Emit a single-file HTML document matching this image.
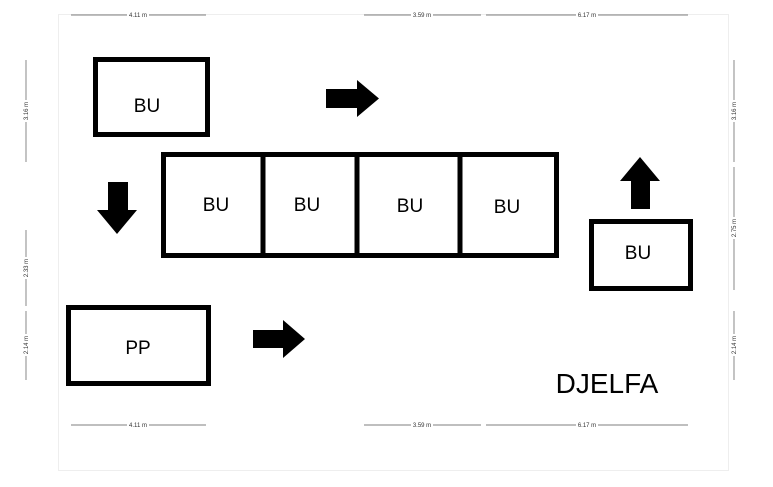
<!DOCTYPE html>
<html><head><style>html,body{margin:0;padding:0;background:#fff}svg{display:block}</style></head><body>
<svg width="773" height="487" viewBox="0 0 773 487" xmlns="http://www.w3.org/2000/svg" font-family="Liberation Sans, sans-serif">
<rect width="773" height="487" fill="#fff"/>
<rect x="58.5" y="14.5" width="670" height="456" fill="none" stroke="#eee" stroke-width="1"/>
<g fill="none" stroke="#000" stroke-width="5">
<rect x="95.5" y="59.5" width="112" height="75"/>
<rect x="163.5" y="154.5" width="393" height="101"/>
<line x1="263" y1="154" x2="263" y2="256"/>
<line x1="357" y1="154" x2="357" y2="256"/>
<line x1="460" y1="154" x2="460" y2="256"/>
<rect x="591.5" y="221.5" width="99" height="67"/>
<rect x="68.5" y="307.5" width="140" height="76"/>
</g>
<g font-size="19" text-anchor="middle" fill="#000">
<text x="147" y="112">BU</text>
<text x="216" y="211">BU</text>
<text x="307" y="211">BU</text>
<text x="410" y="212">BU</text>
<text x="507" y="213">BU</text>
<text x="638" y="259">BU</text>
<text x="138" y="354">PP</text>
</g>
<text x="607" y="393" font-size="28" text-anchor="middle">DJELFA</text>
<g fill="#000">
<polygon points="326,89 357,89 357,80 379,98.5 357,117 357,108 326,108"/>
<polygon points="253,330 283,330 283,320 305,339 283,358 283,348 253,348"/>
<polygon points="108,182 128,182 128,210 137,210 117,234 97,210 108,210"/>
<polygon points="631,209 650,209 650,181 660,181 640,157 620,181 631,181"/>
</g>
<g stroke="#555" stroke-width="0.7" fill="#333" font-size="6">
<line x1="71" y1="15" x2="206" y2="15"/><line x1="364" y1="15" x2="481" y2="15"/><line x1="486" y1="15" x2="688" y2="15"/>
<line x1="71" y1="425" x2="206" y2="425"/><line x1="364" y1="425" x2="481" y2="425"/><line x1="486" y1="425" x2="688" y2="425"/>
<line x1="26" y1="60" x2="26" y2="162"/><line x1="26" y1="230" x2="26" y2="306"/><line x1="26" y1="311" x2="26" y2="380"/>
<line x1="734" y1="60" x2="734" y2="162"/><line x1="734" y1="167" x2="734" y2="290"/><line x1="734" y1="311" x2="734" y2="380"/>
</g>
<g font-size="6" fill="#333" text-anchor="middle">
<rect x="127" y="12" width="22" height="6" fill="#fff"/><text x="138" y="17">4.11 m</text>
<rect x="411" y="12" width="22" height="6" fill="#fff"/><text x="422" y="17">3.59 m</text>
<rect x="576" y="12" width="22" height="6" fill="#fff"/><text x="587" y="17">6.17 m</text>
<rect x="127" y="422" width="22" height="6" fill="#fff"/><text x="138" y="427">4.11 m</text>
<rect x="411" y="422" width="22" height="6" fill="#fff"/><text x="422" y="427">3.59 m</text>
<rect x="576" y="422" width="22" height="6" fill="#fff"/><text x="587" y="427">6.17 m</text>
<g transform="translate(28,111) rotate(-90)"><rect x="-11" y="-5" width="22" height="6" fill="#fff"/><text x="0" y="0">3.16 m</text></g>
<g transform="translate(28,268) rotate(-90)"><rect x="-11" y="-5" width="22" height="6" fill="#fff"/><text x="0" y="0">2.33 m</text></g>
<g transform="translate(28,345) rotate(-90)"><rect x="-11" y="-5" width="22" height="6" fill="#fff"/><text x="0" y="0">2.14 m</text></g>
<g transform="translate(736,111) rotate(-90)"><rect x="-11" y="-5" width="22" height="6" fill="#fff"/><text x="0" y="0">3.16 m</text></g>
<g transform="translate(736,228) rotate(-90)"><rect x="-11" y="-5" width="22" height="6" fill="#fff"/><text x="0" y="0">2.75 m</text></g>
<g transform="translate(736,345) rotate(-90)"><rect x="-11" y="-5" width="22" height="6" fill="#fff"/><text x="0" y="0">2.14 m</text></g>
</g>
</svg>
</body></html>
